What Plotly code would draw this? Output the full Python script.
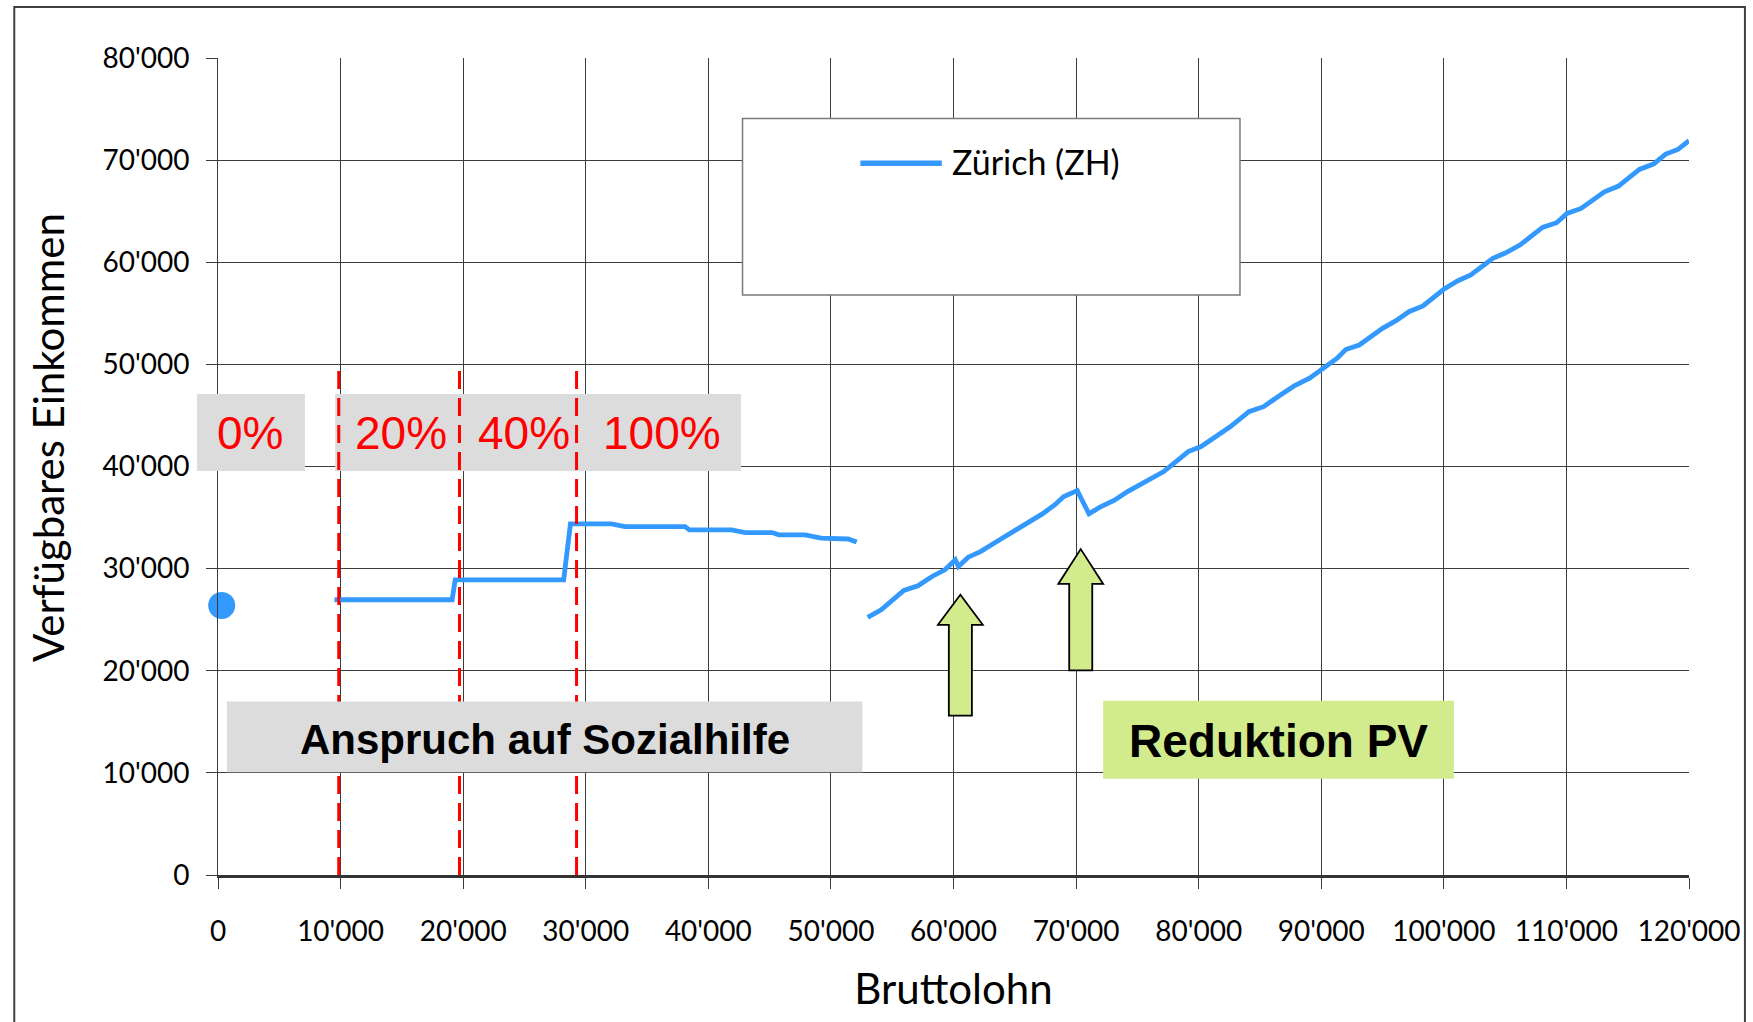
import plotly.graph_objects as go

# ---------------- data ----------------
series_name = "Zürich (ZH)"

x_point = [300]
y_point = [26400]

x_seg1 = [9500, 19100, 19350, 28200, 28750, 32100, 33200, 38100, 38450, 41900,
          43000, 45200, 45750, 47900, 49200, 51400, 52100]
y_seg1 = [26950, 26950, 28900, 28900, 34380, 34380, 34120, 34120, 33800, 33800,
          33530, 33530, 33310, 33310, 32980, 32900, 32600]

x_seg2 = [53000, 54100, 55950, 57100, 58250, 59300, 60150, 60400, 61200, 62200,
          63400, 64300, 65300, 66250, 67250, 68250, 69000, 70100, 71050, 71950,
          73100, 74200, 75150, 76250, 77150, 78150, 79150, 80200, 81350, 82600,
          84100, 85300, 86550, 87800, 89050, 90050, 91300, 92000, 93100, 95000,
          96100, 97150, 98300, 100000, 101150, 102200, 104000, 105050, 106200, 108050,
          109200, 110050, 111200, 113100, 114250, 115950, 117100, 118100, 119100, 120000]
y_seg2 = [25220, 25970, 27860, 28320, 29230, 29880, 30860, 30210, 31120, 31670,
          32560, 33210, 34060, 34610, 35360, 36240, 37060, 37640, 35360, 36020,
          36670, 37540, 38200, 38850, 39500, 40480, 41460, 41950, 42930, 43910,
          45370, 45860, 46910, 47890, 48640, 49450, 50600, 51450, 51900, 53530,
          54280, 55160, 55720, 57350, 58190, 58750, 60380, 60930, 61680, 63410,
          63870, 64780, 65270, 66900, 67460, 69090, 69610, 70590, 71050, 71900]

x_tickvals = [0, 10000, 20000, 30000, 40000, 50000, 60000, 70000, 80000,
              90000, 100000, 110000, 120000]
x_ticktext = ["0", "10'000", "20'000", "30'000", "40'000", "50'000", "60'000",
              "70'000", "80'000", "90'000", "100'000", "110'000", "120'000"]
y_tickvals = [0, 10000, 20000, 30000, 40000, 50000, 60000, 70000, 80000]
y_ticktext = ["0", "10'000", "20'000", "30'000", "40'000", "50'000", "60'000",
              "70'000", "80'000"]

band_labels = ["0%", "20%", "40%", "100%"]
band_label_x = [2650, 14900, 25000, 36200]
threshold_x = [9850, 19700, 29250]
threshold_top = [49500, 49900, 50100]

x_title = "Bruttolohn"
y_title = "Verfügbares Einkommen"
note_social = "Anspruch auf Sozialhilfe"
note_pv = "Reduktion PV"

# ---------------- styling ----------------
XMAX, YMAX = 120000, 80000
BLUE = "rgb(51,153,255)"
GREY_BOX = "rgb(220,220,220)"
GREEN = "rgb(210,235,140)"
GRID = "#3c3c3c"
TICK_FONT = "Lato, 'Open Sans', sans-serif"
ARIAL = "'Liberation Sans', Arial, sans-serif"
PLOT_W, PLOT_H = 1473.0, 817.4
LEFT, TOP = 218.0, 58.0


def px(v):
    return v / XMAX


def py(v):
    return v / YMAX


fig = go.Figure()

x_line = x_seg1 + [None] + x_seg2
y_line = y_seg1 + [None] + y_seg2
fig.add_trace(go.Scatter(x=x_line, y=y_line, mode="lines", name=series_name,
                         line=dict(color=BLUE, width=4.8), connectgaps=False,
                         showlegend=False))
fig.add_trace(go.Scatter(x=x_point, y=y_point, mode="markers", name=series_name,
                         marker=dict(color=BLUE, size=27), cliponaxis=False,
                         showlegend=False))

shapes = []
# grey boxes behind the percent labels
for x0, x1 in [(-1710, 7090), (9560, 42660)]:
    shapes.append(dict(type="rect", xref="paper", yref="paper",
                       x0=px(x0), x1=px(x1), y0=py(39570), y1=py(47100),
                       fillcolor=GREY_BOX, line=dict(width=0), layer="above"))
# red dashed threshold lines
for tx, top in zip(threshold_x, threshold_top):
    shapes.append(dict(type="line", xref="x", yref="y", x0=tx, x1=tx,
                       y0=0, y1=top,
                       line=dict(color="red", width=3, dash="18px,9px")))
# note boxes
shapes.append(dict(type="rect", xref="paper", yref="paper",
                   x0=px(730), x1=px(52570), y0=py(10050), y1=py(17000),
                   fillcolor=GREY_BOX, line=dict(width=0)))
shapes.append(dict(type="rect", xref="paper", yref="paper",
                   x0=px(72210), x1=px(100820), y0=py(9430), y1=py(17070),
                   fillcolor=GREEN, line=dict(width=0)))


# arrows
def arrow(cx, tip, base, bottom, head_half, shaft_half):
    return ("M {a},{tip} L {b},{base} L {c},{base} L {c},{bot} L {d},{bot} "
            "L {d},{base} L {e},{base} Z").format(
        a=cx, tip=tip, b=cx + head_half, base=base, c=cx + shaft_half,
        bot=bottom, d=cx - shaft_half, e=cx - head_half)


for cx, tip, base, bot in [(60560, 27440, 24500, 15600),
                            (70380, 31910, 28500, 20030)]:
    shapes.append(dict(type="path", xref="x", yref="y",
                       path=arrow(cx, tip, base, bot, 1830, 940),
                       fillcolor=GREEN, line=dict(color="black", width=1.8)))

# legend box (drawn)
shapes.append(dict(type="rect", xref="x", yref="y", x0=42790, x1=83370,
                   y0=56790, y1=74070, fillcolor="white",
                   line=dict(color="#7a7a7a", width=1.5)))
shapes.append(dict(type="line", xref="x", yref="y", x0=52400, x1=59050,
                   y0=69700, y1=69700, line=dict(color=BLUE, width=5.5)))
# outer frame
shapes.append(dict(type="rect", xref="paper", yref="paper",
                   x0=(14 - LEFT) / PLOT_W, x1=(1747 - LEFT) / PLOT_W,
                   y0=-0.3, y1=(875.4 - 7) / PLOT_H,
                   line=dict(color="#404040", width=2), fillcolor="rgba(0,0,0,0)"))

annotations = []
for lab, lx in zip(band_labels, band_label_x):
    annotations.append(dict(x=lx, y=43250, xref="x", yref="y", text=lab,
                            showarrow=False, xanchor="center", yanchor="middle",
                            font=dict(family=ARIAL, size=46, color="red")))
annotations.append(dict(x=26650, y=13300, xref="x", yref="y", text="<b>" + note_social + "</b>",
                        showarrow=False, font=dict(family=ARIAL, size=42, color="black")))
annotations.append(dict(x=86550, y=13100, xref="x", yref="y", text="<b>" + note_pv + "</b>",
                        showarrow=False, font=dict(family=ARIAL, size=46, color="black")))
annotations.append(dict(x=59700, y=69850, xref="x", yref="y", text=series_name,
                        showarrow=False, xanchor="left", yanchor="middle",
                        font=dict(family=TICK_FONT, size=34, color="black")))
# y-axis title
annotations.append(dict(x=(48 - LEFT) / PLOT_W, y=(875.4 - 438) / PLOT_H,
                        xref="paper", yref="paper", text=y_title, textangle=-90,
                        showarrow=False, xanchor="center", yanchor="middle",
                        font=dict(family=TICK_FONT, size=42, color="black")))

fig.update_layout(
    width=1753, height=1022, autosize=False,
    margin=dict(l=218, r=62, t=58, b=147, pad=0),
    paper_bgcolor="white", plot_bgcolor="white",
    shapes=shapes, annotations=annotations, showlegend=False,
    xaxis=dict(range=[0, XMAX], tickvals=x_tickvals, ticktext=x_ticktext,
               showgrid=True, gridcolor=GRID, gridwidth=1, zeroline=False,
               showline=True, linecolor="#333333", linewidth=2.5,
               ticks="outside", ticklen=11, tickcolor=GRID, tickwidth=1,
               ticklabelstandoff=19,
               tickfont=dict(family=TICK_FONT, size=28, color="black"),
               title=dict(text=x_title, standoff=29,
                          font=dict(family=TICK_FONT, size=42, color="black"))),
    yaxis=dict(range=[0, YMAX], tickvals=y_tickvals, ticktext=y_ticktext,
               showgrid=True, gridcolor=GRID, gridwidth=1, zeroline=False,
               showline=True, linecolor=GRID, linewidth=1,
               ticks="outside", ticklen=11, tickcolor=GRID, tickwidth=1,
               ticklabelstandoff=11,
               tickfont=dict(family=TICK_FONT, size=28, color="black")),
)

fig.write_html("out.html", config={"displayModeBar": False},
               post_script="document.body.style.margin='0';")
